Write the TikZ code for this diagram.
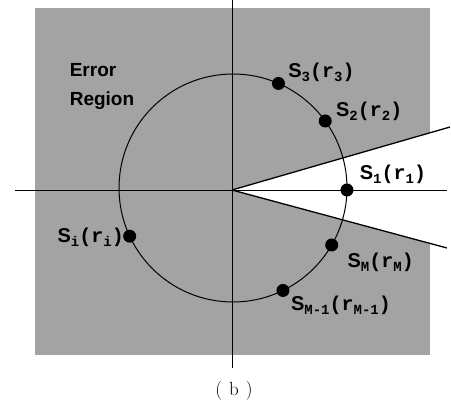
\documentclass[tikz,border=0pt]{standalone}
\usepackage{fontspec}
\setsansfont{Liberation Sans}
\setmonofont{Liberation Mono}
\usetikzlibrary{calc}
\newcommand\sublab{\fontsize{14}{14}\selectfont\ttfamily\bfseries}
\newcommand\sym[2]{S\lower4pt\hbox{\sublab #1}{\ttfamily(r\lower4pt\hbox{\sublab #2})}}

\begin{document}
\begin{tikzpicture}[x=1pt,y=1pt]
    \tikzset{
      dot/.style={circle,fill=black,inner sep=0pt,minimum size=13pt},
      lab/.style={font=\fontsize{20}{22}\selectfont\sffamily\bfseries,inner sep=0pt},
      axis/.style={line width=0.9pt},
      ray/.style={line width=1.3pt}
    }
    \useasboundingbox (0,0) rectangle (451,402);
    \coordinate (O) at (232,212);
    \coordinate (C) at (233,214);
    \coordinate (xl) at (15,212);
    \coordinate (xr) at (447,212);
    \coordinate (yt) at (232,402);
    \coordinate (yb) at (232,34);
    \coordinate (wu) at (450,275);
    \coordinate (wl) at (447,154);
    % error region and the white decision wedge
    \fill[black!36] (35,47) rectangle (430,394);
    \begin{scope}
      \clip (35,47) rectangle (430,394);
      \fill[white] (O) -- (wu) -- (wl) -- cycle;
    \end{scope}
    \draw[axis] (xl) -- (xr);
    \draw[axis] (yt) -- (yb);
    \draw[ray] (O) -- (wu);
    \draw[ray] (O) -- (wl);
    \draw[line width=1pt] (C) circle[radius=114];
    \foreach \n/\a in {s3/66.5,s2/36,s1/-1,sm/-30,smm/-64,si/205}
      \node[dot] (\n) at ($(C)+(\a:114)$) {};
    \node[lab] (l3) at ($(s3)+(43,11)$) {\sym{3}{3}};
    \node[lab] (l2) at ($(s2)+(44,10)$) {\sym{2}{2}};
    \node[lab] (l1) at ($(s1)+(46,16)$) {\sym{1}{1}};
    \node[lab] (lm) at ($(sm)+(49,-17)$) {\sym{M}{M}};
    \node[lab] (lmm) at ($(smm)+(58,-15)$) {\sym{M-1}{M-1}};
    \node[lab] (li) at ($(si)+(-39,-1)$) {\sym{i}{i}};
    \node[lab,font=\fontsize{19}{29}\selectfont\sffamily\bfseries,align=left] (err) at (102,316) {Error\\Region};
    \node[font=\fontsize{19}{19}\selectfont] (cap) at (234,11) {(\hspace{7pt}b\hspace{7pt})};
\end{tikzpicture}
\end{document}
